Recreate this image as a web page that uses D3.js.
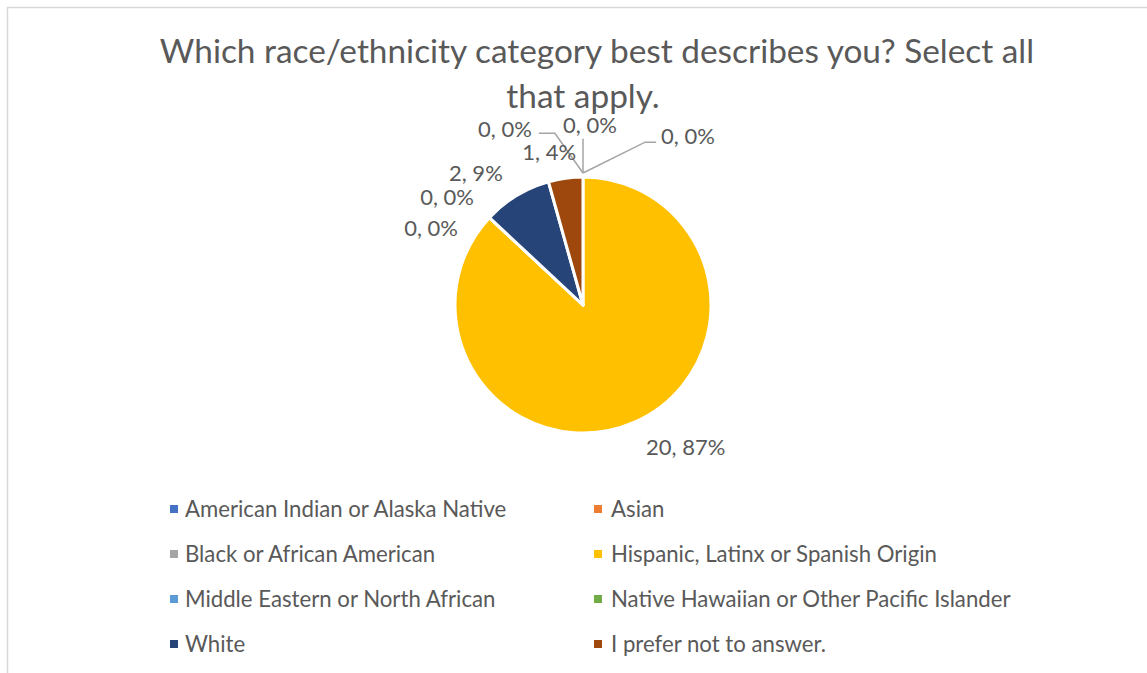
<!DOCTYPE html>
<html>
<head>
<meta charset="utf-8">
<script src="https://cdn.jsdelivr.net/npm/d3@7"></script>
<style>
  html, body { margin: 0; padding: 0; background: #fff; }
  svg { display: block; }
  text { font-family: Lato, "Liberation Sans", sans-serif; fill: #595959; }
</style>
</head>
<body>
<svg id="chart" width="1147" height="673"></svg>
<script>
const titleLines = ["Which race/ethnicity category best describes you? Select all", "that apply."];
const categories = [
  "American Indian or Alaska Native",
  "Asian",
  "Black or African American",
  "Hispanic, Latinx or Spanish Origin",
  "Middle Eastern or North African",
  "Native Hawaiian or Other Pacific Islander",
  "White",
  "I prefer not to answer."
];
const values = [0, 0, 0, 20, 0, 0, 2, 1];
const colors = ["#4472C4", "#ED7D31", "#A5A5A5", "#FFC000", "#5B9BD5", "#70AD47", "#264478", "#9E480E"];
// label placement tweaks (px) relative to the arc-based anchor
const labelNudge = [[105, -9], [7, -20], [-78, -16], [39, -4], [-35, 32], [-19, 1], [-24, 5], [-12, 6]];
const hasLeader = [true, true, true, false, false, false, false, false];

const svg = d3.select("#chart");
svg.append("rect").attr("x", 7.5).attr("y", 7.5).attr("width", 1150).attr("height", 700)
  .attr("fill", "#fff").attr("stroke", "#D9D9D9").attr("stroke-width", 1.5);

// Title
const titleCx = [597, 583];
const titleY = [63, 108];
svg.selectAll("text.title").data(titleLines).join("text")
  .attr("class", "title")
  .attr("x", (d, i) => titleCx[i]).attr("y", (d, i) => titleY[i])
  .attr("text-anchor", "middle").attr("font-size", 33.4).text(d => d);

// Pie
const cx = 583, cy = 305, r = 128;
const total = d3.sum(values);
const pie = d3.pie().sort(null).value(d => d)(values);
const arc = d3.arc().innerRadius(0).outerRadius(r);
const g = svg.append("g").attr("transform", `translate(${cx},${cy})`);
g.selectAll("path").data(pie).join("path")
  .attr("d", arc).attr("fill", (d, i) => colors[i])
  .attr("stroke", "#fff").attr("stroke-width", 3).attr("stroke-linejoin", "round");

// Labels
const lr = r * 1.25;
const labels = g.selectAll("text.lbl").data(pie).join("text")
  .attr("class", "lbl")
  .attr("font-size", 22)
  .attr("text-anchor", "middle")
  .attr("dy", "0.35em")
  .attr("x", (d, i) => { const a = (d.startAngle + d.endAngle) / 2; return lr * Math.sin(a) + labelNudge[i][0]; })
  .attr("y", (d, i) => { const a = (d.startAngle + d.endAngle) / 2; return -lr * Math.cos(a) + labelNudge[i][1]; })
  .text(d => `${d.value}, ${Math.round(d.value / total * 100)}%`);

// Leader lines
labels.each(function (d, i) {
  if (!hasLeader[i]) return;
  const bb = this.getBBox();
  const a = (d.startAngle + d.endAngle) / 2;
  const sx = (r + 4) * Math.sin(a), sy = -(r + 4) * Math.cos(a);
  const lcx = bb.x + bb.width / 2, lcy = bb.y + bb.height / 2;
  let pts;
  if (Math.abs(lcx - sx) < 15) {
    pts = [[sx, sy], [sx, bb.y + bb.height + 1]];
  } else if (lcx > sx) {
    const ex = bb.x - 5, ey = lcy + 7;
    pts = [[sx, sy], [ex - 11, ey], [ex, ey]];
  } else {
    const ex = bb.x + bb.width + 7, ey = lcy + 5;
    pts = [[sx, sy], [ex + 16, ey], [ex, ey]];
  }
  g.insert("path", "text").attr("d", d3.line()(pts)).attr("fill", "none")
    .attr("stroke", "#A5A5A5").attr("stroke-width", 1.5);
});

// Legend
const legX = [170, 594], legTextX = [185, 611], legY0 = 509, legDy = 45;
const leg = svg.selectAll("g.leg").data(categories).join("g").attr("class", "leg")
  .attr("transform", (d, i) => `translate(0,${legY0 + Math.floor(i / 2) * legDy})`);
leg.append("rect").attr("x", (d, i) => legX[i % 2]).attr("y", -4).attr("width", 8).attr("height", 8)
  .attr("fill", (d, i) => colors[i]);
leg.append("text").attr("x", (d, i) => legTextX[i % 2]).attr("y", 0).attr("dy", "0.35em")
  .attr("font-size", 22.2).text(d => d);
</script>
</body>
</html>
